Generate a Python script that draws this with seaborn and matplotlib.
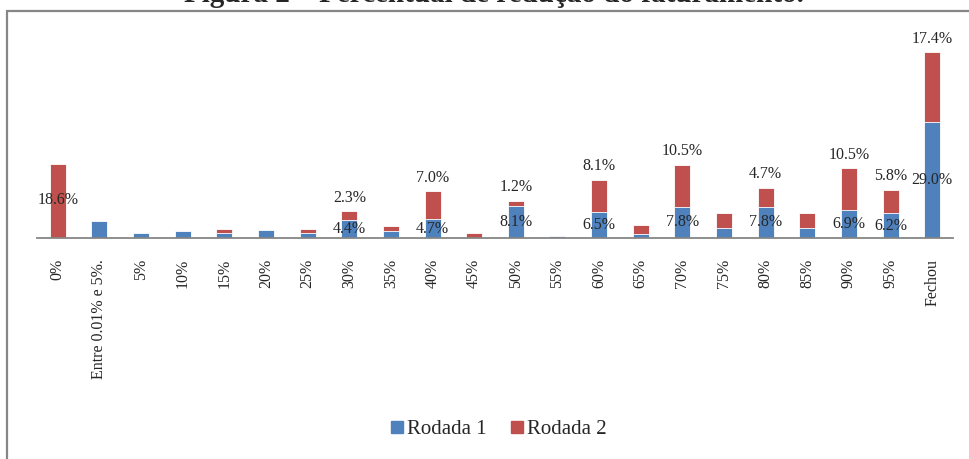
import matplotlib
matplotlib.use("Agg")
import matplotlib.pyplot as plt
import matplotlib.patches as mpatches
import seaborn as sns
import pandas as pd

categories = ["0%", "Entre 0.01% e 5%.", "5%", "10%", "15%", "20%", "25%", "30%",
              "35%", "40%", "45%", "50%", "55%", "60%", "65%", "70%", "75%", "80%",
              "85%", "90%", "95%", "Fechou"]
rodada1 = [0.0, 4.2, 1.3, 1.7, 1.2, 2.0, 1.2, 4.4, 1.7, 4.7, 0.0, 8.1, 0.5, 6.5,
           1.1, 7.8, 2.6, 7.8, 2.6, 6.9, 6.2, 29.0]
rodada2 = [18.6, 0.0, 0.0, 0.0, 1.1, 0.0, 1.1, 2.3, 1.2, 7.0, 1.2, 1.2, 0.0, 8.1,
           2.2, 10.5, 3.6, 4.7, 3.6, 10.5, 5.8, 17.4]
labelled = ["0%", "30%", "40%", "50%", "60%", "70%", "80%", "90%", "95%", "Fechou"]

df = pd.DataFrame({"cat": categories, "r1": rodada1, "r2": rodada2})
df["total"] = df["r1"] + df["r2"]

blue = "#4F81BD"
red = "#C0504D"
serif = ["Liberation Serif", "DejaVu Serif"]

sns.set_style("white")
plt.rcParams["font.family"] = serif

fig = plt.figure(figsize=(9.69, 4.59), dpi=100)
ax = fig.add_axes([37 / 969, (459 - 238) / 459, (953 - 37) / 969, 208 / 459])

# stacked: total in red, rodada 1 drawn over it in blue
sns.barplot(data=df, x="cat", y="total", color=red, width=0.385, saturation=1,
            ax=ax, edgecolor="white", linewidth=0.6)
sns.barplot(data=df, x="cat", y="r1", color=blue, width=0.385, saturation=1,
            ax=ax, edgecolor="white", linewidth=0.6)

ax.set_ylim(0, 52)
ax.set_xlim(-0.5, len(categories) - 0.5)
ax.set_xlabel("")
ax.set_ylabel("")
ax.set_yticks([])
sns.despine(ax=ax, left=True, top=True, right=True)
ax.spines["bottom"].set_color("#868686")
ax.spines["bottom"].set_linewidth(1.3)

ax.set_xticks(range(len(categories)))
ax.set_xticklabels(categories, rotation=90, fontsize=11.5, va="top")
ax.tick_params(axis="x", which="major", length=0, pad=15)
ax.set_xticks([i - 0.5 for i in range(len(categories) + 1)], minor=True)
ax.tick_params(axis="x", which="minor", length=4, width=1.3, color="#868686",
               direction="out")

# data labels
for i, row in df.iterrows():
    if row["cat"] not in labelled:
        continue
    if row["r1"] > 0:
        ax.text(i, row["r1"] / 2, f"{row['r1']:.1f}%", ha="center", va="center",
                fontsize=11.5)
    if row["r1"] == 0:
        ax.text(i, row["r2"] / 2 + 0.3, f"{row['r2']:.1f}%", ha="center",
                va="center", fontsize=11.5)
    else:
        ax.annotate(f"{row['r2']:.1f}%", (i, row["total"]), xytext=(0, 4),
                    textcoords="offset points", ha="center", va="bottom",
                    fontsize=11.5)

handles = [mpatches.Patch(color=blue, label="Rodada 1"),
           mpatches.Patch(color=red, label="Rodada 2")]
fig.legend(handles=handles, loc="center", bbox_to_anchor=(499 / 969, 1 - 430 / 459),
           ncol=2, frameon=False, fontsize=15, handlelength=0.55, handleheight=0.55,
           handletextpad=0.2, columnspacing=1.2)

# chart frame and caption (cut at the top edge, as in the source page)
fig.add_artist(mpatches.Rectangle((7 / 969, -0.1), 1.2, 1 - 11 / 459 + 0.1,
                                  transform=fig.transFigure, fill=False,
                                  edgecolor="#868686", linewidth=1.6))
fig.text(494 / 969, 1 - 1.5 / 459, "Figura 2 – Percentual de redução do faturamento.",
         ha="center", va="baseline", fontsize=21, fontweight="bold")

fig.savefig("out.png", dpi=100)
